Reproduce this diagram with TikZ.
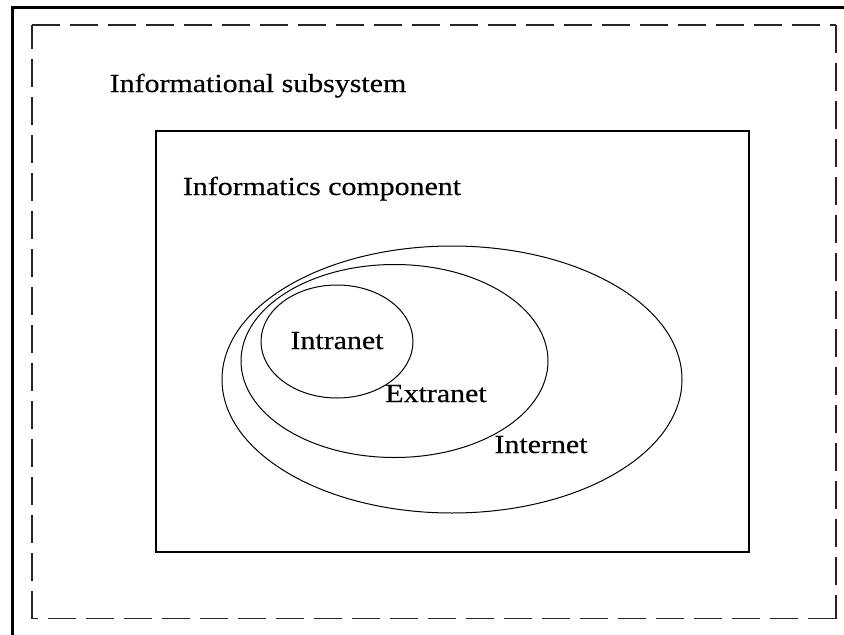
\documentclass[tikz,border=0pt]{standalone}
\usepackage{fontspec}
\setmainfont{Liberation Serif}[FakeStretch=1.15,FakeBold=0.4]
\usetikzlibrary{shapes.geometric}
\begin{document}
\begin{tikzpicture}[x=1pt,y=-1pt,
  lbl/.style={inner sep=0pt,anchor=base,font=\fontsize{26}{30}\selectfont},
  dashline/.style={draw=black!85,line width=1.3pt,dash pattern=on 28pt off 10pt},
  oval/.style={draw=black,line width=1pt,ellipse,inner sep=0pt}]
\useasboundingbox (0,0) rectangle (844,635);
% screenshot frame
\draw[line width=3pt] (12,635) -- (12,7) -- (844,7);
% outer dashed boundary
\coordinate (tl) at (32,25);
\coordinate (tr) at (836,25);
\coordinate (br) at (836,618.5);
\coordinate (bl) at (32,618.5);
\draw[dashline] (tl) -- (tr);
\draw[dashline] (tr) -- (br);
\draw[dashline] (br) -- (bl);
\draw[dashline] (bl) -- (tl);
\node[lbl] (subsys) at (258,92) {Informational subsystem};
% inner box
\node[draw=black,line width=1.3pt,minimum width=593pt,minimum height=421pt,inner sep=0pt] (comp) at (452.5,341.5) {};
\node[lbl] (complbl) at (322,195) {Informatics component};
% ovals
\node[oval,minimum width=460pt,minimum height=267pt] (internet) at (452,379.5) {};
\node[oval,minimum width=307pt,minimum height=193pt] (extranet) at (394.5,361) {};
\node[oval,minimum width=152pt,minimum height=113pt] (intranet) at (337,341.5) {};
\node[lbl] (intralbl) at (337,349) {Intranet};
\node[lbl] (extralbl) at (436,402) {Extranet};
\node[lbl] (interlbl) at (541,453) {Internet};
\end{tikzpicture}
\end{document}
